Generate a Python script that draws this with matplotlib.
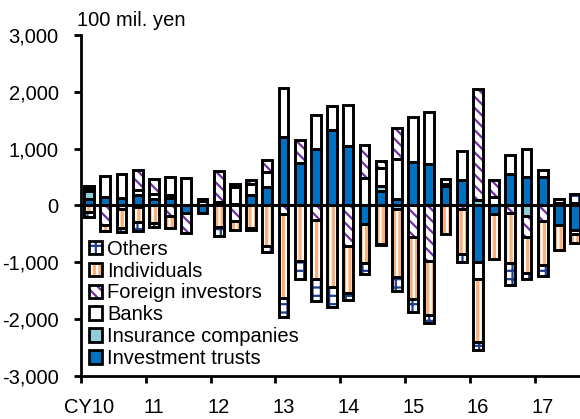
import matplotlib
matplotlib.use("Agg")
import matplotlib.pyplot as plt
import numpy as np
from matplotlib.patches import Patch
from matplotlib.ticker import FuncFormatter

# -------------------------
# Data (100 mil. yen, quarterly CY10 Q1 .. CY17 Q3)
# -------------------------
years = ["CY10", "11", "12", "13", "14", "15", "16", "17"]

investment_trusts = [110, 150, 130, 190, 120, 130, -140, -140,
                     0, 30, 190, 330, 1210, 740, 990, 1330,
                     1050, -320, 260, 110, 770, 730, 340, 450,
                     -1000, -150, 550, 510, 510, -350, -430]
insurance = [140, 0, 0, -30, 0, 60, 0, 0,
             0, 0, 0, 0, 0, 0, 0, 0,
             0, 0, 80, -70, 0, 0, 30, 0,
             100, 0, 0, -185, 0, 40, 0]
banks = [40, 370, 430, 80, 90, 310, 480, 80,
         60, 300, 190, 265, 850, 0, 610, 420,
         710, 490, 315, 710, 780, 920, 90, 510,
         -290, 150, 340, 480, 110, 80, -80]
foreign = [60, -340, -60, 360, 260, -190, -350, 30,
           550, -270, 70, 205, -150, 420, -250, 0,
           -720, 570, 135, 550, -560, -980, 0, -60,
           1950, 290, -140, -365, -280, 0, 40]
individuals = [-110, -100, -340, -260, -300, -200, 0, 0,
               -380, -160, -400, -720, -1480, -980, -1050, -1440,
               -820, -700, -680, -1190, -1080, -940, -500, -790,
               -1120, -790, -870, -640, -760, -440, -150]
others = [-90, -10, -60, -150, -70, 0, 0, 0,
          -150, 50, -30, -90, -340, -320, -380, -350,
          -130, -180, -20, -250, -230, -150, 0, -150,
          -130, 0, -390, -110, -200, 0, 160]

# stacking order from zero outwards
series = [
    ("Investment trusts", investment_trusts, "#0070C0", "#0070C0", None),
    ("Insurance companies", insurance, "#92CDDC", "#92CDDC", None),
    ("Banks", banks, "white", "white", None),
    ("Foreign investors", foreign, "white", "#7030A0", "\\\\\\"),
    ("Individuals", individuals, "#FAB07A", "white", "|||"),
    ("Others", others, "white", "#1F3D8C", "++"),
]

# -------------------------
# Plot
# -------------------------
plt.rcParams["font.family"] = ["Liberation Sans", "DejaVu Sans"]
plt.rcParams["font.size"] = 14.5
plt.rcParams["axes.unicode_minus"] = False
plt.rcParams["hatch.linewidth"] = 1.6

fig = plt.figure(figsize=(5.8, 4.19), dpi=100)
ax = fig.add_axes([0.1397, 0.1026, 0.8603, 0.8139])

x = np.arange(len(investment_trusts))
width = 0.6
pos_base = np.zeros(len(x))
neg_base = np.zeros(len(x))

for name, vals, fc, hc, hatch in series:
    v = np.array(vals, dtype=float)
    base = np.where(v >= 0, pos_base, neg_base)
    ax.bar(x, v, width, bottom=base, color=fc, edgecolor=hc,
           hatch=hatch, linewidth=0, zorder=2)
    ax.bar(x, v, width, bottom=base, fill=False, edgecolor="black",
           linewidth=2.1, zorder=3)
    pos_base += np.where(v > 0, v, 0)
    neg_base += np.where(v < 0, v, 0)

ax.axhline(0, color="black", linewidth=2.2, zorder=4)

ax.set_xlim(-0.5, 30.3)
ax.set_ylim(-3000, 3000)
ax.set_yticks(range(-3000, 3001, 1000))
ax.yaxis.set_major_formatter(FuncFormatter(lambda v, p: f"{int(v):,}"))

ax.set_xticks(np.arange(len(years)) * 4 - 0.5)
ax.set_xticklabels([])
ax.set_xticks(np.arange(len(years)) * 4, minor=True)
ax.set_xticklabels(years, minor=True)
ax.tick_params(axis="x", which="major", length=5, width=2, direction="out")
ax.tick_params(axis="x", which="minor", length=0, pad=16)
ax.tick_params(axis="y", length=5, width=2, direction="out", pad=11)

for s in ["top", "right"]:
    ax.spines[s].set_visible(False)
for s in ["left", "bottom"]:
    ax.spines[s].set_linewidth(2)

fig.text(77 / 580, 1 - 21 / 419, "100 mil. yen", ha="left", va="center")

handles, labels = [], []
for name, vals, fc, hc, hatch in reversed(series):
    h = (Patch(facecolor=fc, edgecolor=hc, hatch=hatch, linewidth=0),
         Patch(fill=False, edgecolor="black", linewidth=2.0))
    handles.append(h)
    labels.append(name)

ax.legend(handles, labels, loc="lower left", bbox_to_anchor=(0.008, 0.012),
          frameon=False, handlelength=0.65, handleheight=0.65,
          handletextpad=0.25, labelspacing=0.14, borderpad=0.2,
          borderaxespad=0)

fig.savefig("out.png", dpi=100)
